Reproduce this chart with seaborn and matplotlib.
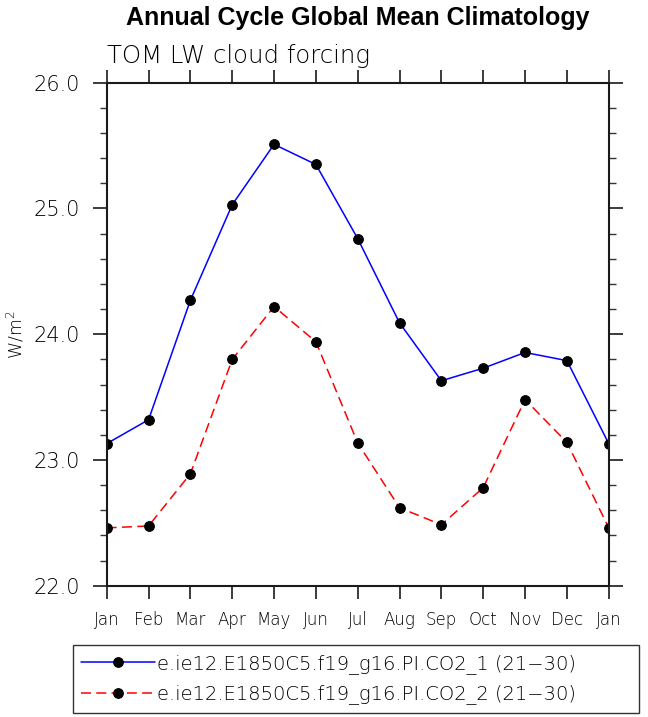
import numpy as np
import pandas as pd
import matplotlib
matplotlib.use('Agg')
import matplotlib.pyplot as plt
from matplotlib.ticker import MultipleLocator
import seaborn as sns

# values
months = ['Jan', 'Feb', 'Mar', 'Apr', 'May', 'Jun', 'Jul',
          'Aug', 'Sep', 'Oct', 'Nov', 'Dec', 'Jan']
co2_1 = [23.13, 23.32, 24.27, 25.03, 25.51, 25.35, 24.76,
         24.09, 23.63, 23.73, 23.855, 23.79, 23.13]
co2_2 = [22.46, 22.475, 22.89, 23.80, 24.22, 23.94, 23.135,
         22.62, 22.485, 22.78, 23.48, 23.14, 22.46]
case_names = ['e.ie12.E1850C5.f19_g16.PI.CO2_1 (21\u221230)',
              'e.ie12.E1850C5.f19_g16.PI.CO2_2 (21\u221230)']

sns.set_style('ticks', {'text.color': 'black', 'axes.labelcolor': 'black',
                        'xtick.color': 'black', 'ytick.color': 'black'})
plt.rcParams['font.family'] = ['DejaVu Sans']
plt.rcParams['mathtext.default'] = 'regular'

fig = plt.figure(figsize=(6.48, 7.17), dpi=100)
ax = fig.add_axes([0.1647, 0.1831, 0.7747, 0.7015])

xpos = np.arange(len(months))
df = pd.DataFrame({'x': xpos, 'co2_1': co2_1, 'co2_2': co2_2})

sns.lineplot(data=df, x='x', y='co2_1', ax=ax, color='#0000ff', lw=1.1,
             marker='o', markersize=7, markerfacecolor='black',
             markeredgecolor='black', label=case_names[0])
sns.lineplot(data=df, x='x', y='co2_2', ax=ax, color='#ff0000', lw=1.1,
             linestyle=(0, (6.5, 3.5)), marker='o', markersize=7,
             markerfacecolor='black', markeredgecolor='black',
             label=case_names[1])

ax.set_xlim(0, 12)
ax.set_ylim(22, 26)
ax.set_xticks(xpos)
ax.set_xticklabels(months)
ax.yaxis.set_major_locator(MultipleLocator(1.0))
ax.yaxis.set_minor_locator(MultipleLocator(0.2))
ax.yaxis.set_major_formatter(matplotlib.ticker.FormatStrFormatter('%.1f'))

for s in ax.spines.values():
    s.set_visible(True)
    s.set_linewidth(1.5)
    s.set_color('#1a1a1a')

ax.tick_params(axis='x', which='major', direction='out', length=9.2, width=1.2,
               color='#1a1a1a', labelsize=12, pad=9, top=True, bottom=True)
ax.tick_params(axis='y', which='major', direction='out', length=10, width=1.2,
               color='#1a1a1a', labelsize=15, pad=9, left=True, right=True)
ax.tick_params(axis='y', which='minor', direction='out', length=5, width=1.0,
               color='#333333', left=True, right=True)
ax.tick_params(axis='x', which='minor', bottom=False, top=False)
for lab in ax.get_xticklabels() + ax.get_yticklabels():
    lab.set_fontweight('light')

ax.set_xlabel('')
ax.set_ylabel('W/m$^2$', fontsize=12.5, fontweight='light')
ax.yaxis.set_label_coords(-0.16, 0.5)

fig.text(0.552, 1 - 24.5 / 717, 'Annual Cycle Global Mean Climatology',
         ha='center', va='baseline', fontsize=18, fontweight='bold',
         color='black', family=['Liberation Sans', 'DejaVu Sans'])
fig.text(106.7 / 648, 1 - 63.3 / 717, 'TOM LW cloud forcing',
         ha='left', va='baseline', fontsize=17.6, fontweight='light',
         color='black')

leg = ax.legend(loc='upper left',
                bbox_to_anchor=(72.7 / 648, 1 - 645 / 717, 566 / 648, 0),
                bbox_transform=fig.transFigure, mode='expand', borderaxespad=0,
                prop={'size': 14, 'weight': 'light'}, handlelength=3.8,
                handletextpad=0.1, borderpad=0.45, labelspacing=0.55,
                frameon=True, fancybox=False, edgecolor='#333333', framealpha=1)
leg.get_frame().set_linewidth(1.0)

fig.savefig('out.png', dpi=100)
